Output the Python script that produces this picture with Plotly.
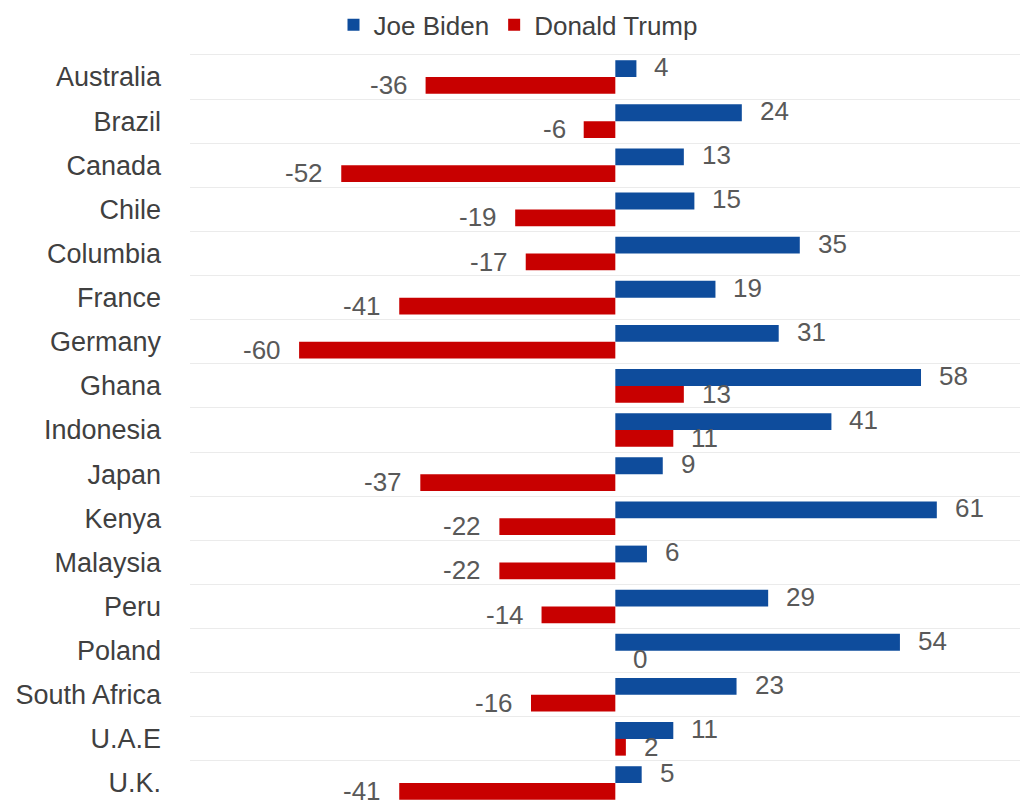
import plotly.graph_objects as go

countries = ["Australia", "Brazil", "Canada", "Chile", "Columbia", "France", "Germany",
             "Ghana", "Indonesia", "Japan", "Kenya", "Malaysia", "Peru", "Poland",
             "South Africa", "U.A.E", "U.K."]
biden = [4, 24, 13, 15, 35, 19, 31, 58, 41, 9, 61, 6, 29, 54, 23, 11, 5]
trump = [-36, -6, -52, -19, -17, -41, -60, 13, 11, -37, -22, -22, -14, 0, -16, 2, -41]

BLUE = "#0E4C9C"
RED = "#C80000"
FONT = "Liberation Sans, Arial, sans-serif"
TXT = "#595959"
LBL = "#404040"

fig = go.Figure()
fig.add_trace(go.Bar(y=countries, x=biden, name="Joe Biden", orientation="h",
                     marker=dict(color=BLUE, line=dict(width=0))))
fig.add_trace(go.Bar(y=countries, x=trump, name="Donald Trump", orientation="h",
                     marker=dict(color=RED, line=dict(width=0))))

annotations = []
for c, v in zip(countries, biden):
    annotations.append(dict(x=v, y=c, text=str(v), showarrow=False,
                            xanchor="left" if v >= 0 else "right",
                            xshift=16 if v >= 0 else -16, yshift=10,
                            font=dict(family=FONT, size=26, color=TXT)))
for c, v in zip(countries, trump):
    annotations.append(dict(x=v, y=c, text=str(v), showarrow=False,
                            xanchor="left" if v >= 0 else "right",
                            xshift=16 if v >= 0 else -16, yshift=-8,
                            font=dict(family=FONT, size=26, color=TXT)))

fig.update_layout(
    width=1020, height=802,
    margin=dict(l=182, r=0, t=44, b=0, autoexpand=False),
    paper_bgcolor="white", plot_bgcolor="white",
    barmode="group", bargap=0.24, bargroupgap=0,
    font=dict(family=FONT, size=26, color=LBL),
    showlegend=True,
    legend=dict(orientation="h", xref="container", yref="container",
                x=0.50, y=0.979, xanchor="center", yanchor="middle",
                font=dict(family=FONT, size=26, color=LBL),
                itemsizing="constant", itemwidth=30),
    annotations=annotations,
)
fig.update_xaxes(range=[-80.7, 78.3], showgrid=False, zeroline=False,
                 showticklabels=False, ticks="", showline=False, automargin=False)
fig.update_yaxes(autorange="reversed", tickson="boundaries", showgrid=True,
                 gridcolor="#EBEBEB", gridwidth=1, ticks="", showline=False,
                 ticklabelstandoff=28, automargin=False,
                 tickfont=dict(family=FONT, size=27, color=LBL))

fig.write_html("out.html")
